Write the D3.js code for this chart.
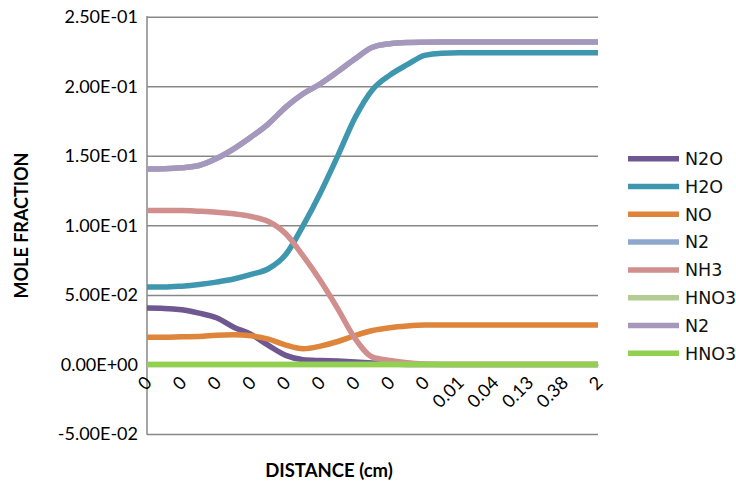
<!DOCTYPE html>
<html>
<head>
<meta charset="utf-8">
<script src="https://cdn.jsdelivr.net/npm/d3@7"></script>
<style>
  html, body { margin: 0; padding: 0; background: #fff; }
  svg { display: block; }
</style>
</head>
<body>
<svg id="chart" width="736" height="482"></svg>
<script>
// Distance labels shown on the category axis (one label every second sample)
const distanceLabels = ["0", "0", "0", "0", "0", "0", "0", "0", "0", "0.01", "0.04", "0.13", "0.38", "2"];

// Mole fractions per sample along the flow direction
const n2o = [0.0405, 0.0403, 0.0393, 0.0369, 0.0336, 0.0268, 0.0216, 0.0137, 0.0065, 0.0034, 0.0028, 0.0024, 0.0018, 0.0010, 0.0004, 0, 0, 0, 0, 0, 0, 0, 0, 0, 0, 0, 0];
const h2o = [0.0556, 0.0556, 0.0563, 0.0575, 0.0592, 0.0614, 0.0647, 0.0688, 0.0790, 0.0998, 0.1235, 0.1500, 0.1775, 0.1975, 0.2080, 0.2155, 0.2222, 0.2238, 0.2240, 0.2240, 0.2240, 0.2240, 0.2240, 0.2240, 0.2240, 0.2240, 0.2240];
const no = [0.0196, 0.0196, 0.0199, 0.0201, 0.0210, 0.0213, 0.0206, 0.0182, 0.0139, 0.0113, 0.0132, 0.0165, 0.0208, 0.0244, 0.0264, 0.0276, 0.0283, 0.0284, 0.0284, 0.0284, 0.0284, 0.0284, 0.0284, 0.0284, 0.0284, 0.0284, 0.0284];
const n2 = [0.1405, 0.1407, 0.1414, 0.1430, 0.1480, 0.1550, 0.1635, 0.1730, 0.1850, 0.1946, 0.2018, 0.2105, 0.2198, 0.2280, 0.2306, 0.2315, 0.2317, 0.2318, 0.2318, 0.2318, 0.2318, 0.2318, 0.2318, 0.2318, 0.2318, 0.2318, 0.2318];
const nh3 = [0.1107, 0.1107, 0.1107, 0.1102, 0.1095, 0.1083, 0.1064, 0.1028, 0.0940, 0.0780, 0.0602, 0.0400, 0.0185, 0.0053, 0.0029, 0.0012, 0.0003, 0, 0, 0, 0, 0, 0, 0, 0, 0, 0];
const hno3 = [0, 0, 0, 0, 0, 0, 0, 0, 0, 0, 0, 0, 0, 0, 0, 0, 0, 0, 0, 0, 0, 0, 0, 0, 0, 0, 0];

const yTicks = [-0.05, 0, 0.05, 0.10, 0.15, 0.20, 0.25];

const series = [
  { name: "N2O",  values: n2o,  color: "#6f5791" },
  { name: "H2O",  values: h2o,  color: "#3e97ae" },
  { name: "NO",   values: no,   color: "#de843b" },
  { name: "N2",   values: n2,   color: "#8ea8cd" },
  { name: "NH3",  values: nh3,  color: "#d08e8d" },
  { name: "HNO3", values: hno3, color: "#b4cc93" },
  { name: "N2",   values: n2,   color: "#a698bc" },
  { name: "HNO3", values: hno3, color: "#92d050" }
];

const svg = d3.select("#chart");
const plot = { left: 147, right: 598, top: 16.7, bottom: 434 };

const x = d3.scaleLinear().domain([0, n2o.length - 1]).range([plot.left, plot.right]);
const y = d3.scaleLinear().domain([-0.05, 0.25]).range([plot.bottom, plot.top]);

const sci = v => {
  if (Math.abs(v) < 1e-12) return "0.00E+00";
  const [m, e] = v.toExponential(2).split("e");
  const n = +e;
  return m + "E" + (n < 0 ? "-" : "+") + String(Math.abs(n)).padStart(2, "0");
};

const bodyFont = "Lato, 'Open Sans', sans-serif";

// Horizontal gridlines and value labels
const yAxis = d3.axisLeft(y).tickValues(yTicks).tickFormat(sci)
  .tickSize(-(plot.right - plot.left)).tickPadding(9);
const gy = svg.append("g").attr("transform", `translate(${plot.left},0)`).call(yAxis);
gy.select(".domain").remove();
gy.selectAll(".tick line").attr("stroke", "#878787").attr("stroke-width", 1.5);
gy.selectAll(".tick text")
  .attr("font-family", bodyFont)
  .attr("font-size", 18).attr("fill", "#000");

// Vertical axis line
svg.append("line")
  .attr("x1", plot.left).attr("x2", plot.left)
  .attr("y1", plot.top - 0.75).attr("y2", plot.bottom + 0.75)
  .attr("stroke", "#878787").attr("stroke-width", 1.5);

// Category axis crossing at zero
const labelIdx = distanceLabels.map((d, i) => i * 2);
const xAxis = d3.axisBottom(x).tickValues(labelIdx)
  .tickFormat((d, i) => distanceLabels[i]).tickSize(0);
const gx = svg.append("g").attr("transform", `translate(0,${y(0)})`).call(xAxis);
gx.select(".domain").attr("stroke", "#878787").attr("stroke-width", 1.5);
gx.selectAll(".tick text")
  .attr("font-family", bodyFont)
  .attr("font-size", 18).attr("fill", "#000")
  .attr("text-anchor", "end")
  .attr("dy", "0.35em")
  .attr("transform", "translate(1,15) rotate(-45)")
  .attr("y", 0);

// Series lines
const line = d3.line()
  .x((d, i) => x(i))
  .y(d => y(d))
  .curve(d3.curveMonotoneX);

svg.append("g").selectAll("path").data(series).join("path")
  .attr("d", d => line(d.values))
  .attr("fill", "none")
  .attr("stroke", d => d.color)
  .attr("stroke-width", 5.5)
  .attr("stroke-linejoin", "round");

// Legend
const legend = svg.append("g").attr("transform", "translate(628,158.7)");
const item = legend.selectAll("g").data(series).join("g")
  .attr("transform", (d, i) => `translate(0,${i * 27.8})`);
item.append("line")
  .attr("x1", 0).attr("x2", 51).attr("y1", 0).attr("y2", 0)
  .attr("stroke", d => d.color).attr("stroke-width", 5.5);
item.append("text")
  .attr("x", 57).attr("dy", "0.36em")
  .attr("font-family", "'DejaVu Sans', sans-serif")
  .attr("font-size", 17.5).attr("fill", "#111")
  .text(d => d.name);

// Axis titles
svg.append("text")
  .attr("transform", "translate(28,225.5) rotate(-90)")
  .attr("text-anchor", "middle")
  .attr("font-family", bodyFont)
  .attr("font-weight", "bold").attr("font-size", 18)
  .text("MOLE FRACTION");

svg.append("text")
  .attr("x", 329).attr("y", 477)
  .attr("text-anchor", "middle")
  .attr("font-family", bodyFont)
  .attr("font-weight", "bold").attr("font-size", 18.5)
  .text("DISTANCE (cm)");
</script>
</body>
</html>
